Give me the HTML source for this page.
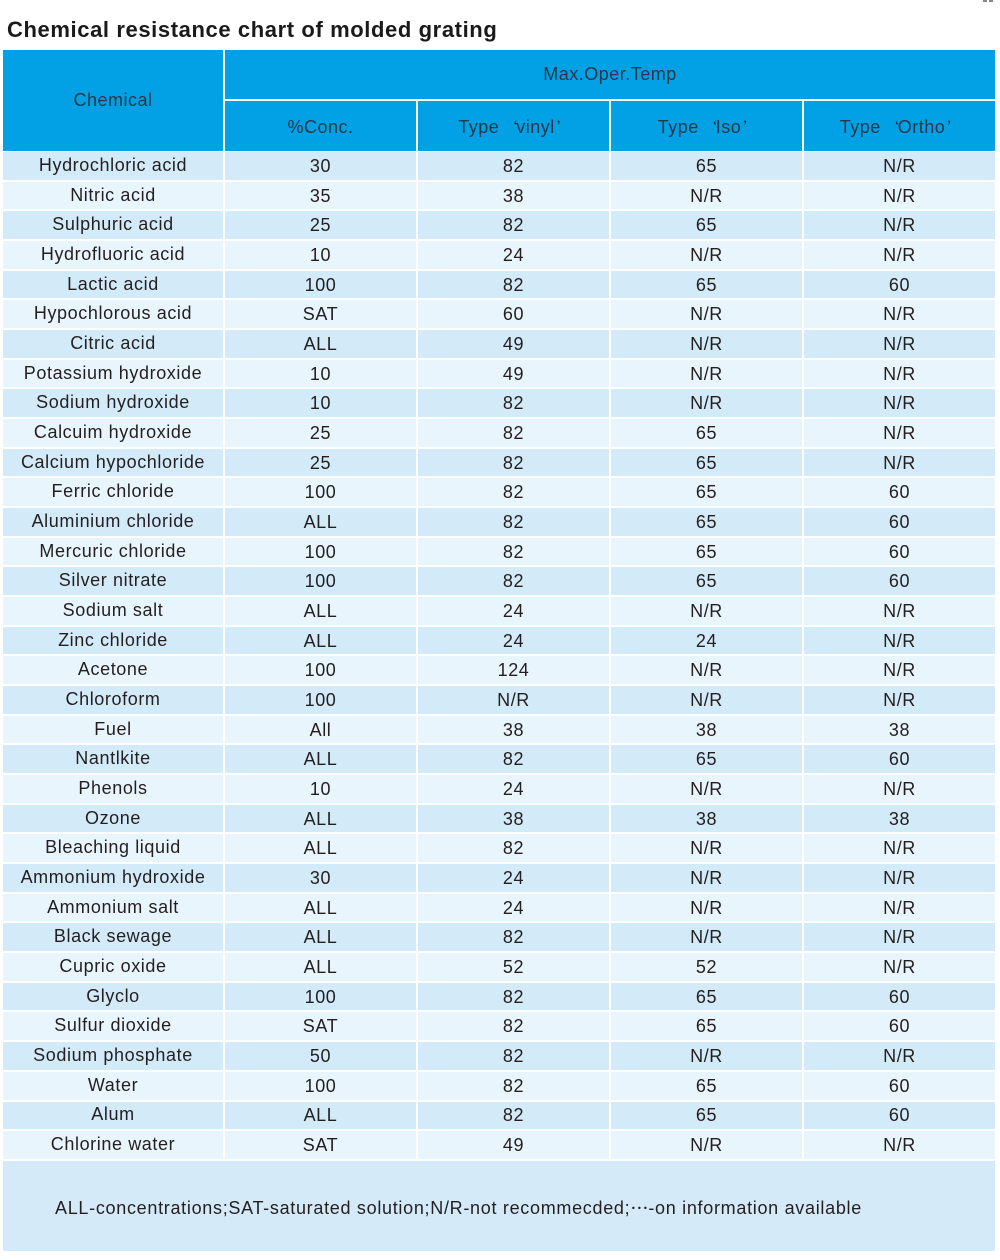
<!DOCTYPE html>
<html><head><meta charset="utf-8">
<style>
*{margin:0;padding:0;box-sizing:border-box}
html,body{width:1000px;height:1260px;background:#fff;overflow:hidden}
body{position:relative;font-family:"Liberation Sans","Noto Sans CJK SC",sans-serif;color:#231f20}
.title{position:absolute;left:7px;top:19px;font-size:22px;line-height:22px;font-weight:bold;letter-spacing:0.6px;color:#1a1a1a;white-space:nowrap}
.h{position:absolute;background:#02a0e4;color:#24384a;font-size:18px;letter-spacing:0.5px;display:flex;align-items:center;justify-content:center;white-space:nowrap}
.q{font-family:"Noto Sans CJK SC",sans-serif;font-size:15px;letter-spacing:0;display:inline-block}
.qo{text-align:right;margin-left:3px;width:14px}
.qc{text-align:left;width:12px;margin-left:2px}
.body{position:absolute;left:3px;top:152px;width:992px;display:flex;flex-direction:column;gap:2px}
.r{display:grid;grid-template-columns:220px 191px 191px 191px 191px;column-gap:2px;height:27.68px}
.r div{display:flex;align-items:center;justify-content:center;font-size:18px;letter-spacing:0.6px;white-space:nowrap;line-height:1}
.r:nth-child(odd) div{background:#d3eaf9}
.r:nth-child(even) div{background:#e8f5fd}
.r div:first-child{padding-bottom:2px}
.foot{position:absolute;left:3px;top:1161px;width:992px;height:90px;background:#d4eaf9;font-size:18px;letter-spacing:0.7px;white-space:nowrap;padding-left:52px;display:flex;align-items:center;padding-top:4px}
.mk{position:absolute;top:0;width:4px;height:2px;background:#888}
</style></head>
<body>
<div class="mk" style="left:983px"></div><div class="mk" style="left:989px"></div>
<div class="title">Chemical resistance chart of molded grating</div>

<div class="h" style="left:3px;top:50px;width:220px;height:101px">Chemical</div>
<div class="h" style="left:225px;top:50px;width:770px;height:49px">Max.Oper.Temp</div>
<div class="h" style="left:225px;top:101px;width:191px;height:50px;padding-top:2px">%Conc.</div>
<div class="h" style="left:418px;top:101px;width:191px;height:50px;padding-top:2px">Type<span class="q qo">‘</span>vinyl<span class="q qc">’</span></div>
<div class="h" style="left:611px;top:101px;width:191px;height:50px;padding-top:2px">Type<span class="q qo">‘</span>Iso<span class="q qc">’</span></div>
<div class="h" style="left:804px;top:101px;width:191px;height:50px;padding-top:2px">Type<span class="q qo">‘</span>Ortho<span class="q qc">’</span></div>

<div class="body">
<div class="r"><div>Hydrochloric acid</div><div>30</div><div>82</div><div>65</div><div>N/R</div></div>
<div class="r"><div>Nitric acid</div><div>35</div><div>38</div><div>N/R</div><div>N/R</div></div>
<div class="r"><div>Sulphuric acid</div><div>25</div><div>82</div><div>65</div><div>N/R</div></div>
<div class="r"><div>Hydrofluoric acid</div><div>10</div><div>24</div><div>N/R</div><div>N/R</div></div>
<div class="r"><div>Lactic acid</div><div>100</div><div>82</div><div>65</div><div>60</div></div>
<div class="r"><div>Hypochlorous acid</div><div>SAT</div><div>60</div><div>N/R</div><div>N/R</div></div>
<div class="r"><div>Citric acid</div><div>ALL</div><div>49</div><div>N/R</div><div>N/R</div></div>
<div class="r"><div>Potassium hydroxide</div><div>10</div><div>49</div><div>N/R</div><div>N/R</div></div>
<div class="r"><div>Sodium hydroxide</div><div>10</div><div>82</div><div>N/R</div><div>N/R</div></div>
<div class="r"><div>Calcuim hydroxide</div><div>25</div><div>82</div><div>65</div><div>N/R</div></div>
<div class="r"><div>Calcium hypochloride</div><div>25</div><div>82</div><div>65</div><div>N/R</div></div>
<div class="r"><div>Ferric chloride</div><div>100</div><div>82</div><div>65</div><div>60</div></div>
<div class="r"><div>Aluminium chloride</div><div>ALL</div><div>82</div><div>65</div><div>60</div></div>
<div class="r"><div>Mercuric chloride</div><div>100</div><div>82</div><div>65</div><div>60</div></div>
<div class="r"><div>Silver nitrate</div><div>100</div><div>82</div><div>65</div><div>60</div></div>
<div class="r"><div>Sodium salt</div><div>ALL</div><div>24</div><div>N/R</div><div>N/R</div></div>
<div class="r"><div>Zinc chloride</div><div>ALL</div><div>24</div><div>24</div><div>N/R</div></div>
<div class="r"><div>Acetone</div><div>100</div><div>124</div><div>N/R</div><div>N/R</div></div>
<div class="r"><div>Chloroform</div><div>100</div><div>N/R</div><div>N/R</div><div>N/R</div></div>
<div class="r"><div>Fuel</div><div>All</div><div>38</div><div>38</div><div>38</div></div>
<div class="r"><div>Nantlkite</div><div>ALL</div><div>82</div><div>65</div><div>60</div></div>
<div class="r"><div>Phenols</div><div>10</div><div>24</div><div>N/R</div><div>N/R</div></div>
<div class="r"><div>Ozone</div><div>ALL</div><div>38</div><div>38</div><div>38</div></div>
<div class="r"><div>Bleaching liquid</div><div>ALL</div><div>82</div><div>N/R</div><div>N/R</div></div>
<div class="r"><div>Ammonium hydroxide</div><div>30</div><div>24</div><div>N/R</div><div>N/R</div></div>
<div class="r"><div>Ammonium salt</div><div>ALL</div><div>24</div><div>N/R</div><div>N/R</div></div>
<div class="r"><div>Black sewage</div><div>ALL</div><div>82</div><div>N/R</div><div>N/R</div></div>
<div class="r"><div>Cupric oxide</div><div>ALL</div><div>52</div><div>52</div><div>N/R</div></div>
<div class="r"><div>Glyclo</div><div>100</div><div>82</div><div>65</div><div>60</div></div>
<div class="r"><div>Sulfur dioxide</div><div>SAT</div><div>82</div><div>65</div><div>60</div></div>
<div class="r"><div>Sodium phosphate</div><div>50</div><div>82</div><div>N/R</div><div>N/R</div></div>
<div class="r"><div>Water</div><div>100</div><div>82</div><div>65</div><div>60</div></div>
<div class="r"><div>Alum</div><div>ALL</div><div>82</div><div>65</div><div>60</div></div>
<div class="r"><div>Chlorine water</div><div>SAT</div><div>49</div><div>N/R</div><div>N/R</div></div>
</div>

<div class="foot">ALL-concentrations;SAT-saturated solution;N/R-not recommecded;<span style="font-family:'Noto Sans CJK SC',sans-serif;font-size:18px;letter-spacing:0">…</span>-on information available</div>
</body></html>
